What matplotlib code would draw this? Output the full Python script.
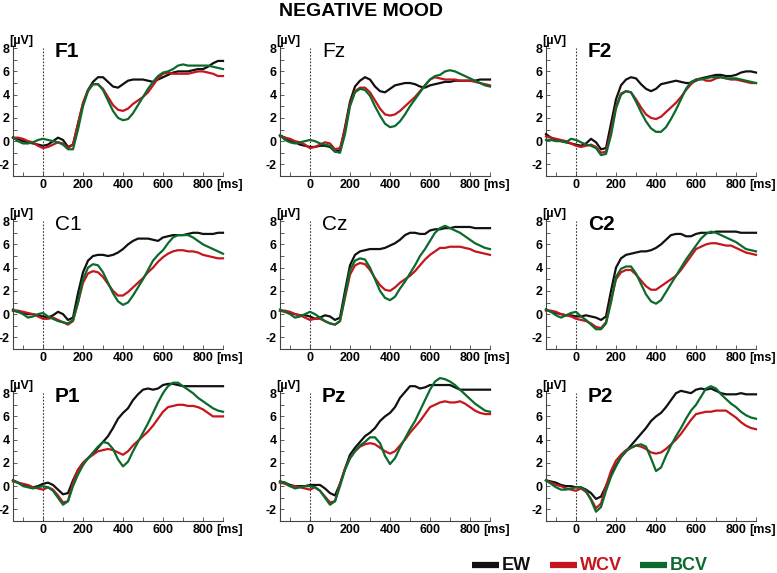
import numpy as np
import matplotlib
matplotlib.use("Agg")
import matplotlib.pyplot as plt
from matplotlib.ticker import MultipleLocator

plt.rcParams['font.family'] = ['Liberation Sans', 'DejaVu Sans']

# time axis in ms, 25 ms steps
t = np.arange(-150, 901, 25)

# ERP amplitudes (µV): EW, WCV, BCV per electrode
F1_ew = [0.3,0.2,0.0,-0.1,-0.2,-0.3,-0.4,-0.3,0.0,0.3,0.1,-0.5,-0.3,1.5,3.2,4.4,5.1,5.5,5.5,5.1,4.7,4.6,4.9,5.2,5.3,5.3,5.3,5.2,5.1,5.3,5.5,5.7,5.9,6.0,6.0,6.0,6.1,6.2,6.2,6.4,6.7,6.9,6.9]
F1_wcv = [0.3,0.3,0.2,0.0,-0.1,-0.4,-0.6,-0.5,-0.3,-0.1,-0.2,-0.6,-0.3,1.5,3.3,4.4,4.9,4.9,4.5,3.8,3.1,2.7,2.6,2.8,3.2,3.5,3.8,4.2,4.8,5.4,5.8,5.9,5.8,5.8,5.8,5.8,5.9,6.0,6.0,5.9,5.8,5.6,5.6]
F1_bcv = [0.3,0.0,-0.2,-0.2,-0.1,0.1,0.2,0.1,0.0,-0.1,-0.3,-0.7,-0.7,1.0,3.0,4.3,4.9,4.9,4.4,3.5,2.6,2.0,1.8,1.9,2.4,3.1,3.8,4.5,5.1,5.6,5.9,6.0,6.2,6.5,6.6,6.5,6.5,6.5,6.5,6.5,6.4,6.3,6.2]

Fz_ew = [0.5,0.3,0.0,-0.1,-0.3,-0.4,-0.5,-0.5,-0.4,-0.4,-0.5,-0.9,-0.8,1.2,3.4,4.7,5.2,5.5,5.3,4.7,4.3,4.2,4.5,4.8,4.9,5.0,5.0,4.9,4.7,4.6,4.8,4.9,5.0,5.1,5.1,5.2,5.2,5.2,5.2,5.2,5.3,5.3,5.3]
Fz_wcv = [0.4,0.3,0.2,0.0,-0.1,-0.3,-0.6,-0.5,-0.3,-0.1,-0.2,-0.7,-0.6,1.0,3.2,4.3,4.6,4.6,4.2,3.5,2.8,2.3,2.2,2.3,2.6,3.0,3.4,3.8,4.3,4.8,5.3,5.5,5.4,5.3,5.3,5.3,5.2,5.2,5.2,5.1,5.0,4.9,4.8]
Fz_bcv = [0.5,0.1,-0.1,-0.2,-0.1,0.0,0.1,0.0,-0.2,-0.3,-0.4,-0.9,-1.0,0.6,3.0,4.2,4.5,4.4,3.9,3.0,2.2,1.5,1.2,1.3,1.7,2.3,3.0,3.6,4.2,4.8,5.3,5.6,5.7,6.0,6.1,6.0,5.8,5.6,5.4,5.2,5.0,4.8,4.7]

F2_ew = [0.6,0.3,0.1,0.0,-0.1,-0.2,-0.3,-0.4,-0.2,0.2,-0.1,-0.7,-0.6,1.5,3.6,4.8,5.3,5.5,5.4,4.9,4.5,4.3,4.5,4.9,5.0,5.1,5.2,5.1,5.0,5.0,5.2,5.4,5.5,5.6,5.7,5.7,5.6,5.6,5.7,5.9,6.0,6.0,5.9]
F2_wcv = [0.4,0.3,0.2,0.1,0.0,-0.2,-0.4,-0.5,-0.4,-0.3,-0.5,-1.0,-0.9,0.8,3.0,4.1,4.3,4.2,3.6,2.9,2.3,2.0,1.9,2.1,2.5,2.9,3.3,3.8,4.4,4.9,5.3,5.4,5.2,5.2,5.4,5.5,5.4,5.3,5.3,5.2,5.1,5.0,5.0]
F2_bcv = [0.1,0.1,0.0,0.0,-0.1,0.2,0.1,-0.1,-0.3,-0.4,-0.6,-1.2,-1.1,0.5,2.8,4.0,4.3,4.2,3.4,2.5,1.7,1.1,0.8,0.8,1.2,1.9,2.7,3.6,4.5,5.1,5.3,5.3,5.4,5.5,5.5,5.5,5.4,5.4,5.4,5.3,5.2,5.1,5.0]

C1_ew = [0.3,0.2,0.1,0.0,0.0,-0.1,-0.2,-0.3,-0.1,0.2,0.0,-0.5,-0.3,1.8,3.6,4.6,5.0,5.1,5.1,5.0,5.1,5.3,5.6,6.0,6.3,6.5,6.5,6.5,6.4,6.3,6.6,6.7,6.8,6.8,6.8,6.9,7.0,7.0,6.9,6.9,6.9,7.0,7.0]
C1_wcv = [0.3,0.3,0.2,0.1,0.0,-0.2,-0.4,-0.4,-0.3,-0.5,-0.7,-0.9,-0.6,1.0,2.7,3.5,3.7,3.6,3.2,2.6,2.0,1.6,1.6,1.9,2.3,2.7,3.1,3.6,4.0,4.5,4.9,5.2,5.4,5.5,5.5,5.4,5.4,5.3,5.1,5.0,4.9,4.8,4.8]
C1_bcv = [0.4,0.2,0.0,-0.3,-0.2,0.0,0.1,-0.2,-0.4,-0.6,-0.7,-0.8,-0.5,1.0,3.0,4.0,4.3,4.2,3.6,2.7,1.8,1.1,0.8,1.0,1.6,2.3,3.0,3.8,4.6,5.1,5.5,6.1,6.6,6.8,6.8,6.8,6.6,6.3,6.0,5.8,5.6,5.4,5.2]

Cz_ew = [0.3,0.2,0.1,0.0,-0.1,-0.1,-0.2,-0.4,-0.3,-0.1,-0.2,-0.5,-0.3,2.0,4.2,5.1,5.4,5.5,5.6,5.6,5.6,5.7,5.9,6.1,6.4,6.8,7.0,7.0,6.9,6.9,7.2,7.3,7.3,7.4,7.4,7.5,7.5,7.5,7.5,7.4,7.4,7.4,7.4]
Cz_wcv = [0.3,0.3,0.2,0.0,-0.1,-0.3,-0.5,-0.4,-0.4,-0.6,-0.8,-0.9,-0.6,1.4,3.4,4.2,4.4,4.3,3.8,3.1,2.5,2.1,2.0,2.3,2.7,3.0,3.3,3.7,4.2,4.7,5.1,5.4,5.7,5.7,5.8,5.8,5.8,5.7,5.6,5.4,5.3,5.2,5.1]
Cz_bcv = [0.4,0.2,0.0,-0.3,-0.2,0.0,0.2,0.0,-0.3,-0.6,-0.8,-0.9,-0.6,1.6,3.8,4.6,4.8,4.7,4.0,3.0,2.0,1.4,1.2,1.5,2.2,2.8,3.5,4.2,5.0,5.6,6.3,7.0,7.4,7.6,7.4,7.2,7.0,6.7,6.4,6.1,5.9,5.7,5.6]

C2_ew = [0.4,0.2,0.1,0.0,-0.1,-0.1,-0.2,-0.2,-0.1,-0.2,-0.3,-0.5,-0.2,2.0,4.0,4.8,5.1,5.2,5.3,5.4,5.4,5.5,5.7,6.0,6.4,6.8,6.9,6.9,6.7,6.7,6.9,7.0,7.0,7.0,7.1,7.1,7.1,7.1,7.1,7.0,7.0,7.0,7.0]
C2_wcv = [0.3,0.3,0.2,0.0,-0.1,-0.2,-0.4,-0.5,-0.6,-0.8,-1.1,-1.2,-0.7,1.2,3.0,3.6,3.8,3.8,3.4,2.9,2.4,2.1,2.1,2.4,2.7,3.0,3.3,3.8,4.4,5.0,5.6,5.8,6.0,6.1,6.1,6.0,5.9,5.9,5.7,5.5,5.3,5.2,5.1]
C2_bcv = [0.4,0.2,-0.1,-0.3,-0.1,0.1,0.2,-0.2,-0.5,-0.9,-1.3,-1.3,-0.8,1.0,3.2,3.9,4.1,4.1,3.5,2.6,1.7,1.1,0.9,1.2,1.9,2.6,3.3,4.0,4.7,5.3,5.9,6.5,6.9,7.1,7.0,6.8,6.6,6.4,6.2,5.9,5.6,5.5,5.4]

P1_ew = [0.5,0.3,0.1,0.0,-0.1,0.0,0.2,0.3,0.1,-0.3,-0.7,-0.6,0.5,1.4,2.0,2.4,2.8,3.3,3.8,4.3,5.0,5.8,6.3,6.7,7.4,7.9,8.3,8.4,8.3,8.4,8.7,8.8,8.8,8.7,8.6,8.6,8.6,8.6,8.6,8.6,8.6,8.6,8.6]
P1_wcv = [0.4,0.3,0.2,0.1,-0.1,-0.2,-0.3,-0.1,-0.3,-0.8,-1.4,-1.3,0.3,1.4,2.0,2.4,2.7,3.0,3.1,3.2,3.1,2.9,2.7,3.0,3.5,3.9,4.3,4.7,5.2,5.8,6.4,6.8,6.9,7.0,7.0,6.9,6.9,6.8,6.6,6.3,6.0,6.0,6.0]
P1_bcv = [0.5,0.3,0.0,-0.1,-0.2,-0.1,0.0,-0.1,-0.4,-1.0,-1.6,-1.3,0.0,1.0,1.8,2.4,2.9,3.4,3.8,3.7,3.2,2.3,1.7,2.1,3.0,3.8,4.6,5.4,6.3,7.2,8.0,8.6,8.9,8.9,8.6,8.3,8.0,7.6,7.3,7.0,6.7,6.5,6.4]

Pz_ew = [0.4,0.3,0.1,0.0,0.0,0.0,0.1,0.1,0.1,-0.2,-0.6,-0.8,0.2,1.5,2.7,3.3,3.8,4.3,4.6,5.0,5.6,6.0,6.3,6.8,7.6,8.1,8.6,8.6,8.4,8.5,8.7,8.7,8.7,8.7,8.7,8.5,8.3,8.3,8.3,8.3,8.3,8.3,8.3]
Pz_wcv = [0.3,0.2,0.0,0.0,-0.1,-0.2,-0.3,-0.1,-0.4,-0.9,-1.4,-1.3,0.2,1.5,2.4,3.0,3.4,3.6,3.7,3.6,3.3,3.0,2.8,3.0,3.5,4.0,4.6,5.1,5.6,6.2,6.8,7.0,7.2,7.3,7.2,7.2,7.3,7.1,6.8,6.5,6.3,6.2,6.2]
Pz_bcv = [0.4,0.3,0.0,-0.2,-0.1,0.0,0.0,-0.1,-0.4,-1.0,-1.6,-1.3,0.0,1.4,2.4,3.0,3.5,3.8,4.2,4.2,3.7,2.6,1.9,2.4,3.3,4.1,4.9,5.6,6.5,7.4,8.3,9.0,9.3,9.2,9.0,8.7,8.3,7.9,7.5,7.1,6.8,6.5,6.4]

P2_ew = [0.5,0.4,0.3,0.1,0.0,0.0,-0.1,-0.1,-0.3,-0.6,-1.1,-0.9,0.0,1.0,1.8,2.5,3.0,3.5,4.0,4.5,5.0,5.6,6.0,6.3,6.8,7.4,8.0,8.2,8.1,8.0,8.3,8.4,8.3,8.4,8.2,8.0,7.9,7.9,7.9,8.0,7.9,7.9,7.9]
P2_wcv = [0.5,0.3,0.1,0.0,-0.2,-0.3,-0.4,-0.2,-0.5,-1.1,-1.9,-1.5,0.0,1.3,2.2,2.7,3.1,3.3,3.5,3.4,3.2,2.9,2.8,2.9,3.2,3.6,4.0,4.5,5.1,5.7,6.2,6.3,6.4,6.4,6.5,6.5,6.5,6.2,5.9,5.5,5.2,5.0,4.9]
P2_bcv = [0.5,0.2,-0.1,-0.3,-0.3,-0.2,-0.1,-0.1,-0.4,-1.2,-2.2,-1.8,-0.4,0.8,1.7,2.5,3.0,3.3,3.5,3.6,3.4,2.4,1.3,1.6,2.6,3.5,4.3,5.0,5.8,6.5,7.0,7.7,8.4,8.6,8.4,7.9,7.5,7.1,6.8,6.4,6.1,5.9,5.8]

electrodes = ['F1', 'Fz', 'F2', 'C1', 'Cz', 'C2', 'P1', 'Pz', 'P2']
bold_label = [True, False, True, False, False, True, True, True, True]
series = [
    (F1_ew, F1_wcv, F1_bcv), (Fz_ew, Fz_wcv, Fz_bcv), (F2_ew, F2_wcv, F2_bcv),
    (C1_ew, C1_wcv, C1_bcv), (Cz_ew, Cz_wcv, Cz_bcv), (C2_ew, C2_wcv, C2_bcv),
    (P1_ew, P1_wcv, P1_bcv), (Pz_ew, Pz_wcv, Pz_bcv), (P2_ew, P2_wcv, P2_bcv),
]
conditions = ['EW', 'WCV', 'BCV']
colors = ['#111111', '#c4161c', '#0b6a2c']
x_ticks = [0, 200, 400, 600, 800]

fig = plt.figure(figsize=(7.77, 5.73), dpi=100)

W, H = 777, 573
col_left = [13, 280, 546]
row_top = [47, 220, 392]
ax_w, ax_h = 210, 129
y_lo, y_hi = -3, 8.1

for i, name in enumerate(electrodes):
    r, c = divmod(i, 3)
    ax = fig.add_axes([col_left[c] / W, 1 - (row_top[r] + ax_h) / H, ax_w / W, ax_h / H])
    for ys, col in zip(series[i], colors):
        ax.plot(t, ys, color=col, lw=1.6, clip_on=False, zorder=3)
    ax.set_xlim(-150, 900)
    ax.set_ylim(y_lo, y_hi)
    ax.axvline(0, ymax=(8 - y_lo) / (y_hi - y_lo), color='#333333', lw=0.8, ls=(0, (1.5, 1.5)))
    for s in ['top', 'right']:
        ax.spines[s].set_visible(False)
    ax.spines['left'].set_color('#444444')
    ax.spines['bottom'].set_color('#444444')
    ax.set_xticks(x_ticks)
    ax.set_xticklabels([str(v) for v in x_ticks], fontweight='bold', fontsize=9)
    ax.set_yticks([-2, 0, 2, 4, 6, 8])
    ax.set_yticklabels(['-2', '0', '2', '4', '6', '8'], fontweight='bold', fontsize=9)
    ax.xaxis.set_minor_locator(MultipleLocator(100))
    ax.yaxis.set_minor_locator(MultipleLocator(1))
    ax.tick_params(which='both', direction='in', length=3, width=0.6, color='#444444', pad=2.5)
    ax.text(868, y_lo - 0.28, '[ms]', ha='left', va='top', fontsize=9, fontweight='bold')
    ax.text(-0.02, 1.0, '[µV]', transform=ax.transAxes, ha='left', va='bottom',
            fontsize=9, fontweight='bold')
    ax.text(60, 7.7, name, ha='left', va='center', fontsize=15,
            fontweight='bold' if bold_label[i] else 'normal')

fig.text(361 / W, 1 - 12 / H, 'NEGATIVE MOOD', ha='center', va='center',
         fontsize=14, fontweight='bold')

# legend drawn as short thick segments with coloured labels
leg_x = [472, 550, 640]
leg_y = 1 - 565 / H
for x0, lab, col in zip(leg_x, conditions, colors):
    fig.add_artist(plt.Line2D([x0 / W, (x0 + 27) / W], [leg_y, leg_y], color=col, lw=4.5,
                              solid_capstyle='butt'))
    fig.text((x0 + 30) / W, leg_y, lab, color=col, ha='left', va='center',
             fontsize=13, fontweight='bold')

fig.savefig('out.png', dpi=100)
